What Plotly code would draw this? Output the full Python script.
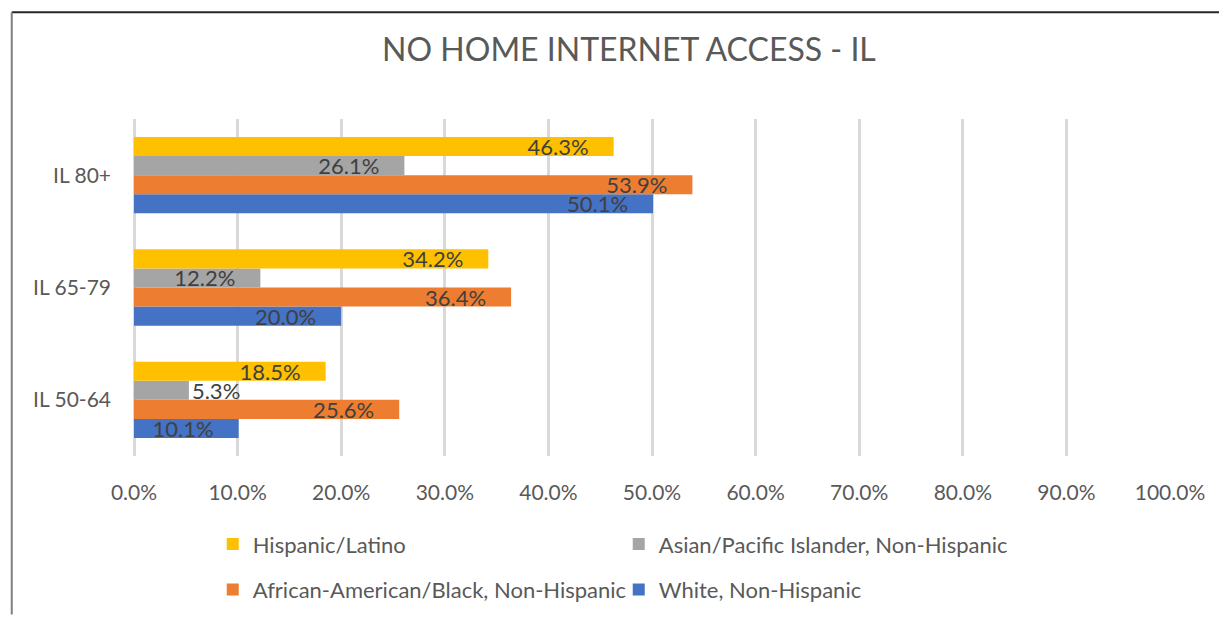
import plotly.graph_objects as go

# data
age_groups = ['IL 50-64', 'IL 65-79', 'IL 80+']
white = [10.1, 20.0, 50.1]
african_american = [25.6, 36.4, 53.9]
asian = [5.3, 12.2, 26.1]
hispanic = [18.5, 34.2, 46.3]

series_names = ['White, Non-Hispanic', 'African-American/Black, Non-Hispanic',
                'Asian/Pacific Islander, Non-Hispanic', 'Hispanic/Latino']
series_values = [white, african_american, asian, hispanic]
series_colors = ['#4472C4', '#ED7D31', '#A5A5A5', '#FFC000']
# bottom legend row holds the first two, top row the last two
series_legend = ['legend2', 'legend2', 'legend', 'legend']

x_ticks = [0, 10, 20, 30, 40, 50, 60, 70, 80, 90, 100]

FONT = 'Lato'
GREY_TEXT = '#595959'

fig = go.Figure()
for name, vals, color, lg in zip(series_names, series_values, series_colors, series_legend):
    # labels sit inside the bar end; too-short bars get them just past the end
    positions = ['outside' if v < 8 else 'inside' for v in vals]
    labels = [f'{v:.1f}%' if p == 'outside' else f'{v:.1f}%\u2002\u2002'
              for v, p in zip(vals, positions)]
    fig.add_trace(go.Bar(
        y=age_groups, x=vals, name=name, orientation='h',
        marker=dict(color=color, line=dict(width=0)),
        text=labels, textposition=positions, insidetextanchor='end',
        textfont=dict(family=FONT, size=22, color='#404040'),
        legend=lg, hoverinfo='x+name',
    ))

# page body has an 8px margin, so the figure is drawn 8px smaller and shifted
fig.update_layout(
    width=1219, height=615,
    margin=dict(l=126, r=57, t=111, b=160),
    paper_bgcolor='white', plot_bgcolor='white',
    barmode='group', bargap=0.32, bargroupgap=0,
    uniformtext=dict(minsize=22, mode='show'),
    font=dict(family=FONT, color=GREY_TEXT),
    title=dict(text='NO HOME INTERNET ACCESS - IL', xref='container', x=0.5094,
               yref='container', y=0.932, xanchor='center', yanchor='middle',
               font=dict(family=FONT, size=32, color=GREY_TEXT)),
    legend=dict(orientation='h', traceorder='reversed', entrywidth=361, itemwidth=30,
                x=0.076, xanchor='left', y=-0.262, yanchor='middle',
                font=dict(family=FONT, size=22, color=GREY_TEXT), bgcolor='rgba(0,0,0,0)'),
    legend2=dict(orientation='h', traceorder='reversed', entrywidth=361, itemwidth=30,
                 x=0.076, xanchor='left', y=-0.397, yanchor='middle',
                 font=dict(family=FONT, size=22, color=GREY_TEXT), bgcolor='rgba(0,0,0,0)'),
    showlegend=True,
)

fig.update_xaxes(range=[0, 100], tickvals=x_ticks,
                 ticktext=[f'{t:.1f}%' for t in x_ticks],
                 showgrid=True, gridcolor='#D9D9D9', gridwidth=2.5,
                 zeroline=True, zerolinecolor='#D9D9D9', zerolinewidth=2.5,
                 showline=False, ticks='', ticklabelstandoff=22,
                 tickfont=dict(family=FONT, size=21, color=GREY_TEXT))
fig.update_yaxes(categoryorder='array', categoryarray=age_groups,
                 showgrid=False, zeroline=False, showline=False, ticks='',
                 ticklabelstandoff=22,
                 tickfont=dict(family=FONT, size=21, color=GREY_TEXT))

# chart frame (top and left edges visible in the reference crop)
fig.add_shape(type='line', xref='paper', yref='paper', x0=-0.118, x1=1.06, y0=1.317, y1=1.317,
              line=dict(color='#262626', width=2))
fig.add_shape(type='line', xref='paper', yref='paper', x0=-0.118, x1=-0.118, y0=1.317, y1=-0.47,
              line=dict(color='#7F7F7F', width=2))

fig.write_html('out.html')
